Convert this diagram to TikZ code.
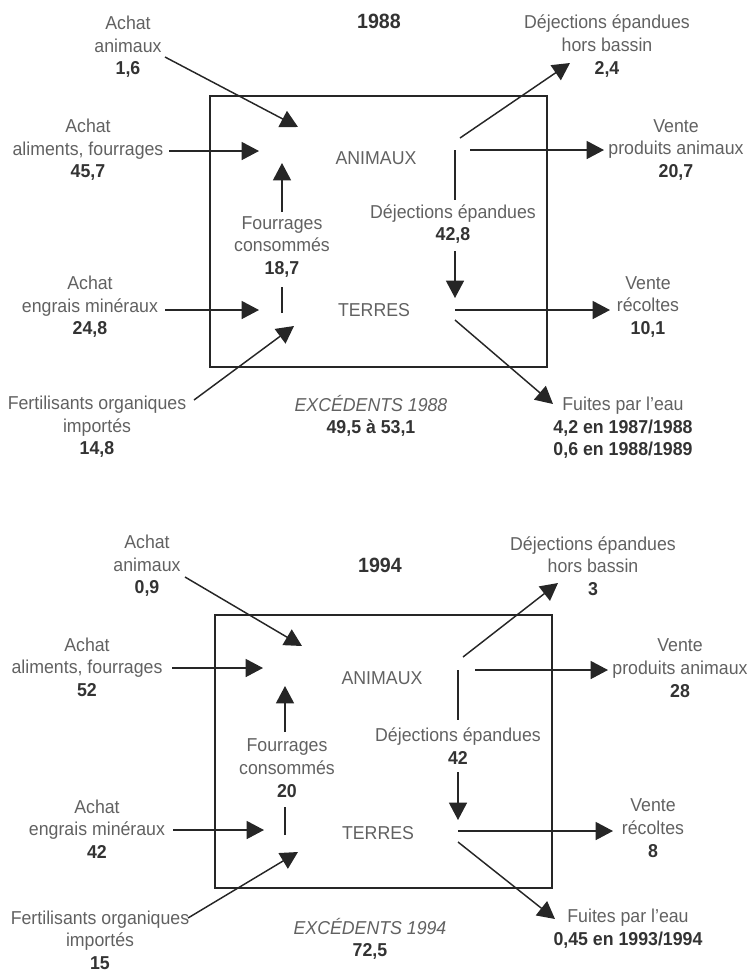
\documentclass[tikz,border=0pt]{standalone}
\usepackage{fontspec}
\setmainfont{Liberation Sans}[FakeStretch=0.95]
\usetikzlibrary{arrows.meta}
\definecolor{txtgray}{gray}{0.38}
\definecolor{numgray}{gray}{0.2}
\definecolor{inkgray}{gray}{0.15}
\tikzset{
  lab/.style={align=center, text=txtgray, inner sep=0pt, font=\fontsize{14}{17}\selectfont},
  flow/.style={draw=inkgray, line width=1.1pt, -{Triangle[length=13pt,width=13.5pt]}},
  link/.style={draw=inkgray, line width=1.1pt},
  frame/.style={draw=inkgray, line width=1.3pt},
  yearlab/.style={font=\fontsize{15.5}{18}\selectfont\bfseries, text=numgray, inner sep=0pt},
}
\newcommand\val[1]{{\bfseries\color{numgray}#1}}
\begin{document}
\begin{tikzpicture}[x=0.75pt,y=-0.75pt]
\useasboundingbox (0,0) rectangle (751,972);

% ---------------- 1988 ----------------
\node[yearlab] (t88) at (379,21) {1988};
\draw[frame] (210,96) rectangle (547,367);

\node[lab] (anim88) at (376,158) {ANIMAUX};
\node[lab] (terr88) at (374,310) {TERRES};

\node[lab] (aa88) at (128,47) {Achat\\animaux\\\val{1,6}};
\node[lab] (al88) at (88,150) {Achat\\aliments, fourrages\\\val{45,7}};
\node[lab] (en88) at (90,307) {Achat\\engrais minéraux\\\val{24,8}};
\node[lab] (fe88) at (97,427) {Fertilisants organiques\\importés\\\val{14,8}};
\node[lab] (fo88) at (282,247) {Fourrages\\consommés\\\val{18,7}};
\node[lab] (dj88) at (453,224) {Déjections épandues\\\val{42,8}};
\node[lab] (dh88) at (607,46) {Déjections épandues\\hors bassin\\\val{2,4}};
\node[lab] (vp88) at (676,150) {Vente\\produits animaux\\\val{20,7}};
\node[lab] (vr88) at (648,307) {Vente\\récoltes\\\val{10,1}};
\node[lab] (fu88) at (623,428) {Fuites par l'eau\\\val{4,2 en 1987/1988}\\\val{0,6 en 1988/1989}};
\node[lab] (ex88) at (371,416) {\itshape EXCÉDENTS 1988\\\val{49,5 à 53,1}};

\coordinate (aa88s) at (165,57);   \coordinate (aa88e) at (298,127);
\coordinate (al88s) at (169,151);  \coordinate (al88e) at (259,151);
\coordinate (en88s) at (165,310);  \coordinate (en88e) at (259,310);
\coordinate (fe88s) at (194,400);  \coordinate (fe88e) at (294,326);
\coordinate (fo88a) at (282,313);  \coordinate (fo88b) at (282,287);
\coordinate (fo88c) at (282,212);  \coordinate (fo88e) at (282,163);
\coordinate (dj88a) at (455,150);  \coordinate (dj88b) at (455,200);
\coordinate (dj88c) at (455,251);  \coordinate (dj88e) at (455,298);
\coordinate (dh88s) at (460,138);  \coordinate (dh88e) at (570,63);
\coordinate (vp88s) at (470,150);  \coordinate (vp88e) at (604,150);
\coordinate (vr88s) at (455,310);  \coordinate (vr88e) at (610,310);
\coordinate (fu88s) at (455,320);  \coordinate (fu88e) at (553,404);

\draw[flow] (aa88s) -- (aa88e);
\draw[flow] (al88s) -- (al88e);
\draw[flow] (en88s) -- (en88e);
\draw[flow] (fe88s) -- (fe88e);
\draw[link] (fo88a) -- (fo88b);
\draw[flow] (fo88c) -- (fo88e);
\draw[link] (dj88a) -- (dj88b);
\draw[flow] (dj88c) -- (dj88e);
\draw[flow] (dh88s) -- (dh88e);
\draw[flow] (vp88s) -- (vp88e);
\draw[flow] (vr88s) -- (vr88e);
\draw[flow] (fu88s) -- (fu88e);

% ---------------- 1994 ----------------
\node[yearlab] (t94) at (380,565) {1994};
\draw[frame] (215,615) rectangle (552,888);

\node[lab] (anim94) at (382,678) {ANIMAUX};
\node[lab] (terr94) at (378,833) {TERRES};

\node[lab] (aa94) at (147,566) {Achat\\animaux\\\val{0,9}};
\node[lab] (al94) at (87,667) {Achat\\aliments, fourrages\\\val{52}};
\node[lab] (en94) at (97,829) {Achat\\engrais minéraux\\\val{42}};
\node[lab] (fe94) at (100,940) {Fertilisants organiques\\importés\\\val{15}};
\node[lab] (fo94) at (287,768) {Fourrages\\consommés\\\val{20}};
\node[lab] (dj94) at (458,746) {Déjections épandues\\\val{42}};
\node[lab] (dh94) at (593,566) {Déjections épandues\\hors bassin\\\val{3}};
\node[lab] (vp94) at (680,668) {Vente\\produits animaux\\\val{28}};
\node[lab] (vr94) at (653,828) {Vente\\récoltes\\\val{8}};
\node[lab] (fu94) at (628,929) {Fuites par l'eau\\\val{0,45 en 1993/1994}};
\node[lab] (ex94) at (370,939) {\itshape EXCÉDENTS 1994\\\val{72,5}};

\coordinate (aa94s) at (185,577);  \coordinate (aa94e) at (302,646);
\coordinate (al94s) at (172,668);  \coordinate (al94e) at (263,668);
\coordinate (en94s) at (173,830);  \coordinate (en94e) at (264,830);
\coordinate (fe94s) at (188,918);  \coordinate (fe94e) at (298,852);
\coordinate (fo94a) at (285,835);  \coordinate (fo94b) at (285,807);
\coordinate (fo94c) at (285,732);  \coordinate (fo94e) at (285,686);
\coordinate (dj94a) at (458,670);  \coordinate (dj94b) at (458,720);
\coordinate (dj94c) at (458,772);  \coordinate (dj94e) at (458,820);
\coordinate (dh94s) at (463,657);  \coordinate (dh94e) at (558,583);
\coordinate (vp94s) at (475,670);  \coordinate (vp94e) at (608,670);
\coordinate (vr94s) at (458,831);  \coordinate (vr94e) at (613,831);
\coordinate (fu94s) at (458,842);  \coordinate (fu94e) at (555,919);

\draw[flow] (aa94s) -- (aa94e);
\draw[flow] (al94s) -- (al94e);
\draw[flow] (en94s) -- (en94e);
\draw[flow] (fe94s) -- (fe94e);
\draw[link] (fo94a) -- (fo94b);
\draw[flow] (fo94c) -- (fo94e);
\draw[link] (dj94a) -- (dj94b);
\draw[flow] (dj94c) -- (dj94e);
\draw[flow] (dh94s) -- (dh94e);
\draw[flow] (vp94s) -- (vp94e);
\draw[flow] (vr94s) -- (vr94e);
\draw[flow] (fu94s) -- (fu94e);
\end{tikzpicture}
\end{document}
